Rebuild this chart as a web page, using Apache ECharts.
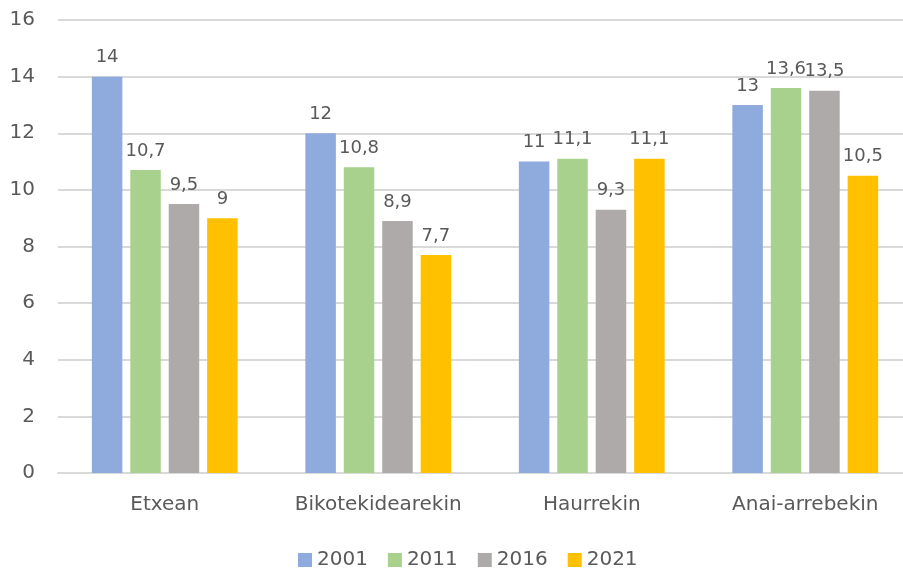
<!DOCTYPE html>
<html>
<head>
<meta charset="utf-8">
<script src="https://cdn.jsdelivr.net/npm/echarts@6/dist/echarts.min.js"></script>
<style>
  html, body { margin: 0; padding: 0; background: #fff; overflow: hidden; }
  /* plot area runs slightly past the right edge, as in the source image */
  #chart { width: 912px; height: 568px; }
</style>
</head>
<body>
<div id="chart"></div>
<script>
// categories and series
const categories = ['Etxean', 'Bikotekidearekin', 'Haurrekin', 'Anai-arrebekin'];
const years = ['2001', '2011', '2016', '2021'];
const values2001 = [14, 12, 11, 13];
const values2011 = [10.7, 10.8, 11.1, 13.6];
const values2016 = [9.5, 8.9, 9.3, 13.5];
const values2021 = [9, 7.7, 11.1, 10.5];
const colors = ['#8FAADC', '#A9D18E', '#AEAAAA', '#FFC000'];

const textColor = '#595959';
const fontFamily = 'DejaVu Sans';

let chartDom = document.getElementById('chart');
let myChart = echarts.init(chartDom);

// comma decimal separator
function fmt(v) {
  return String(v).replace('.', ',');
}

let seriesData = [values2001, values2011, values2016, values2021];
let series = years.map(function (y, i) {
  return {
    name: y,
    type: 'bar',
    data: seriesData[i],
    barWidth: 30.5,
    barGap: '26%',
    itemStyle: { color: colors[i] },
    label: {
      show: true,
      position: 'top',
      distance: 10,
      color: textColor,
      fontFamily: fontFamily,
      fontSize: 18,
      formatter: function (p) { return fmt(p.value); }
    }
  };
});

let option = {
  animation: false,
  textStyle: { fontFamily: fontFamily },
  grid: {
    left: 58,
    top: 20,
    right: 0,
    height: 453
  },
  legend: {
    data: years,
    left: 298,
    top: 550,
    padding: 0,
    itemWidth: 14,
    itemHeight: 14,
    itemGap: 20,
    icon: 'rect',
    textStyle: { color: textColor, fontSize: 20, fontFamily: fontFamily }
  },
  xAxis: {
    type: 'category',
    data: categories,
    axisTick: { show: false },
    axisLine: { lineStyle: { color: '#D9D9D9', width: 2 } },
    axisLabel: { color: textColor, fontSize: 20, fontFamily: fontFamily, margin: 22, interval: 0 }
  },
  yAxis: {
    type: 'value',
    min: 0,
    max: 16,
    interval: 2,
    axisLine: { show: false },
    axisTick: { show: false },
    splitLine: { lineStyle: { color: '#D9D9D9', width: 2 } },
    axisLabel: { color: textColor, fontSize: 20, fontFamily: fontFamily, margin: 23 }
  },
  series: series
};

myChart.setOption(option);
</script>
</body>
</html>
